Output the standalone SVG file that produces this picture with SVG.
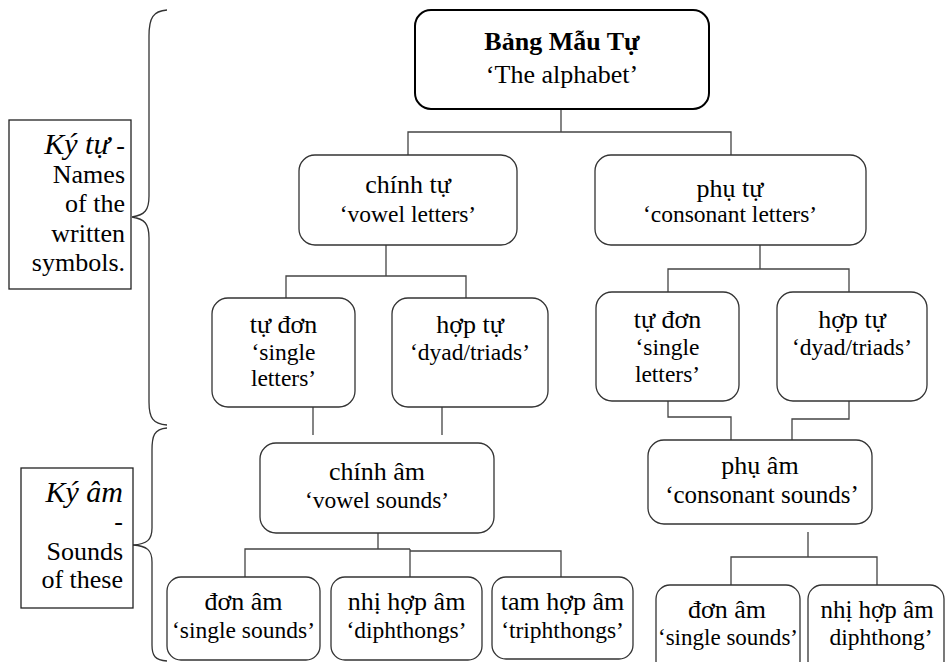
<svg xmlns="http://www.w3.org/2000/svg" width="945" height="662" viewBox="0 0 945 662">
<style>
.bx{fill:#fff;stroke:#333;stroke-width:1.3}
.top{fill:#fff;stroke:#000;stroke-width:2}
.lb{fill:#fff;stroke:#222;stroke-width:1.3}
.cn{fill:none;stroke:#444;stroke-width:1.3}
.br{fill:none;stroke:#333;stroke-width:1.3}
text{font-family:'Liberation Serif',serif;font-size:23.5px;fill:#000;text-anchor:middle}
.v{font-size:26px}
.m{font-size:25px}
.l{font-size:26px;text-anchor:end}
.it{font-style:italic;font-size:30px}
</style>
<rect width="945" height="662" fill="#fff"/>
<g id="braces">
<path class="br" d="M167,10 C153,11 149,18 149,36 L149,196 C149,210 145,215 132,217 C145,219 149,224 149,238 L149,402 C149,418 153,424 167,425"/>
<path class="br" d="M167,428 C154,429 152,436 152,450 L152,528 C152,540 147,544 133,545 C147,546 152,550 152,562 L152,645 C152,656 155,660 167,661"/>
</g>
<g id="label-kytu">
<rect class="lb" x="9" y="120" width="122" height="169"/>
<text class="l" x="125" y="154"><tspan class="it">Ký tự</tspan> -</text>
<text class="l" x="125" y="183">Names</text>
<text class="l" x="125" y="212">of the</text>
<text class="l" x="125" y="242">written</text>
<text class="l" x="125" y="271">symbols.</text>
</g>
<g id="label-kyam">
<rect class="lb" x="21" y="468" width="112" height="140"/>
<text class="l" x="123" y="502"><tspan class="it">Ký âm</tspan></text>
<text class="l" x="123" y="530">-</text>
<text class="l" x="123" y="560">Sounds</text>
<text class="l" x="123" y="588">of these</text>
</g>
<g id="connectors">
<path class="cn" d="M561,109 V132 M408,155 V132 H731 V155"/>
<path class="cn" d="M386,245 V276 M286,298 V276 H466 V298"/>
<path class="cn" d="M760,245 V269 M668,293 V269 H849 V293"/>
<path class="cn" d="M313,407 V435 M442,407 V435"/>
<path class="cn" d="M668,401 V417 H731 V440 M849,401 V419 H792 V440"/>
<path class="cn" d="M378,533 V549 M245,577 V549 H410 M410,577 V549 M410,551 H561 V577"/>
<path class="cn" d="M808,532 V557 M731,585 V557 H877 V585"/>
</g>
<g id="n-bang">
<rect class="top" x="415" y="10" width="294" height="99" rx="16"/>
<text class="v" x="562" y="50" font-weight="bold">Bảng Mẫu Tự</text>
<text class="v" x="562" y="83">‘The alphabet’</text>
</g>
<g id="n-chinhtu">
<rect class="bx" x="299" y="155" width="218" height="90" rx="16"/>
<text class="v" x="408" y="193">chính tự</text>
<text x="408" y="222">‘vowel letters’</text>
</g>
<g id="n-phutu">
<rect class="bx" x="595" y="155" width="271" height="90" rx="16"/>
<text class="v" x="730" y="197">phụ tự</text>
<text x="730" y="222">‘consonant letters’</text>
</g>
<g id="n-tudon-l">
<rect class="bx" x="212" y="298" width="143" height="109" rx="16"/>
<text class="v" x="283.5" y="333">tự đơn</text>
<text x="283.5" y="360">‘single</text>
<text x="283.5" y="386">letters’</text>
</g>
<g id="n-hoptu-l">
<rect class="bx" x="392" y="298" width="156" height="109" rx="16"/>
<text class="v" x="470" y="333">hợp tự</text>
<text x="470" y="360">‘dyad/triads’</text>
</g>
<g id="n-tudon-r">
<rect class="bx" x="596" y="292" width="143" height="109" rx="16"/>
<text class="v" x="667.5" y="328">tự đơn</text>
<text x="667.5" y="355">‘single</text>
<text x="667.5" y="382">letters’</text>
</g>
<g id="n-hoptu-r">
<rect class="bx" x="777" y="292" width="150" height="109" rx="16"/>
<text class="v" x="852" y="328">hợp tự</text>
<text x="852" y="355">‘dyad/triads’</text>
</g>
<g id="n-chinham">
<rect class="bx" x="260" y="443" width="234" height="90" rx="16"/>
<text class="v" x="377" y="480">chính âm</text>
<text x="377" y="508">‘vowel sounds’</text>
</g>
<g id="n-phuam">
<rect class="bx" x="648" y="440" width="224" height="84" rx="16"/>
<text class="v" x="760" y="474">phụ âm</text>
<text class="m" x="762" y="503">‘consonant sounds’</text>
</g>
<g id="n-donam-l">
<rect class="bx" x="167" y="577" width="153" height="83" rx="14"/>
<text class="v" x="243.5" y="610">đơn âm</text>
<text x="243.5" y="638">‘single sounds’</text>
</g>
<g id="n-nhihopam-l">
<rect class="bx" x="331" y="577" width="151" height="83" rx="14"/>
<text class="v" x="406.5" y="610">nhị hợp âm</text>
<text x="406.5" y="638">‘diphthongs’</text>
</g>
<g id="n-tamhopam">
<rect class="bx" x="492" y="577" width="141" height="82" rx="14"/>
<text class="v" x="562.5" y="610">tam hợp âm</text>
<text x="562.5" y="638">‘triphthongs’</text>
</g>
<g id="n-donam-r">
<rect class="bx" x="656" y="585" width="144" height="90" rx="14"/>
<text class="v" x="727" y="618">đơn âm</text>
<text x="728" y="645" textLength="140" lengthAdjust="spacingAndGlyphs">‘single sounds’</text>
</g>
<g id="n-nhihopam-r">
<rect class="bx" x="808" y="585" width="136" height="90" rx="14"/>
<text class="m" x="877" y="618">nhị hợp âm</text>
<text x="881" y="645">diphthong’</text>
</g>
</svg>
